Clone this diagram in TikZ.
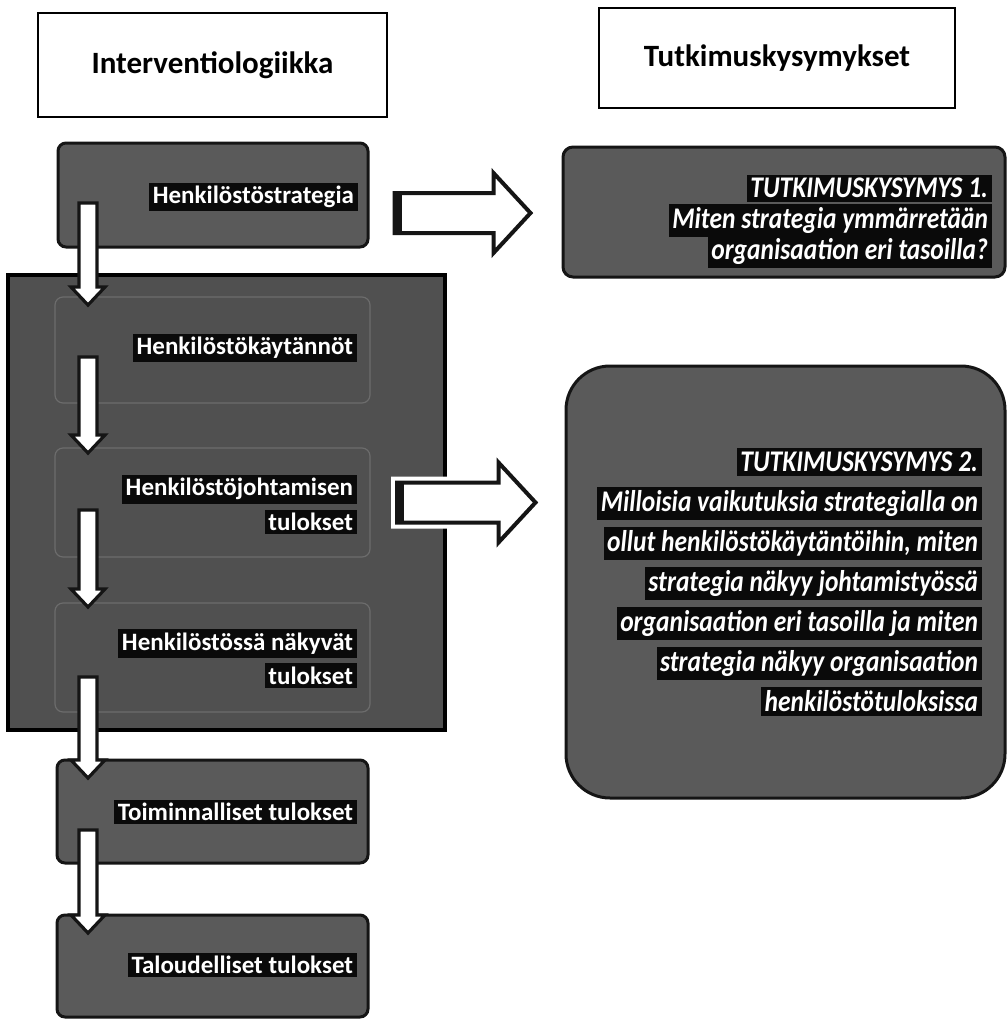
\documentclass[tikz,border=0pt]{standalone}
\usepackage{fontspec}
\setmainfont{Carlito}
\newfontfamily\qfont[FakeStretch=0.85]{Carlito}
\usepackage{tikz}
\usetikzlibrary{calc}
\definecolor{boxfill}{HTML}{5A5A5A}
\definecolor{groupfill}{HTML}{505050}
\definecolor{boxline}{HTML}{151515}
\definecolor{subline}{HTML}{6C6C6C}
\definecolor{halo}{HTML}{0A0A0A}
\newcommand{\hl}[1]{{\fboxsep=1.8pt\colorbox{halo}{#1}}}
\tikzset{
  hdr/.style      = {rectangle, draw=black, fill=white, line width=1.2pt,
                     font={\bfseries\fontsize{15.5}{19}\selectfont}},
  stage/.style    = {rectangle, rounded corners=4pt, draw=boxline, fill=boxfill, line width=1.5pt},
  group/.style    = {rectangle, draw=black, fill=groupfill, line width=2pt},
  substage/.style = {rectangle, rounded corners=4pt, draw=subline, line width=0.6pt},
  qbox/.style     = {rectangle, draw=boxline, fill=boxfill, line width=1.5pt},
  stagetxt/.style = {anchor=east, inner sep=0pt, align=right, text=white,
                     font={\bfseries\fontsize{12.5}{17.5}\selectfont}},
  qtxt/.style     = {anchor=east, inner sep=0pt, align=right, text=white,
                     font={\qfont\bfseries\itshape\fontsize{15}{20}\selectfont\lineskiplimit=-20pt}},
  % block arrows, drawn as outlines between two points
  dnarrow/.style  = {draw=boxline, fill=white, line width=1.6pt,
     to path={let \p1=(\tikztostart), \p2=(\tikztotarget) in
       (\x1-4.5pt,\y1) -- (\x1+4.5pt,\y1) -- (\x1+4.5pt,\y2+9pt) -- (\x1+8.5pt,\y2+9pt)
       -- (\x1,\y2) -- (\x1-8.5pt,\y2+9pt) -- (\x1-4.5pt,\y2+9pt) -- cycle}},
  rtarrow/.style  = {draw=boxline, fill=white, line width=2pt,
     preaction={draw=white, line width=6pt},
     path picture={\fill[boxline] (path picture bounding box.north west)
                    rectangle ([xshift=3.5pt]path picture bounding box.south west);},
     to path={let \p1=(\tikztostart), \p2=(\tikztotarget) in
       (\x1,\y1+10pt) -- (\x2-18.5pt,\y1+10pt) -- (\x2-18.5pt,\y1+20pt) -- (\x2,\y1)
       -- (\x2-18.5pt,\y1-20pt) -- (\x2-18.5pt,\y1-10pt) -- (\x1,\y1-10pt) -- cycle}},
}
\begin{document}
\begin{tikzpicture}[x=0.5pt, y=-0.5pt]
  \fill[white] (0,0) rectangle (1007,1019);
  \useasboundingbox (0,0) rectangle (1007,1019);

  \node[hdr, minimum width=174.5pt, minimum height=52pt] (logic) at (212.5,65) {Interventiologiikka};
  \node[hdr, minimum width=178pt, minimum height=50pt] (questions) at (777,58) {Tutkimuskysymykset};

  % left column
  \node[stage, minimum width=155pt, minimum height=52pt] (strat) at (213,195) {};
  \node[group, minimum width=218.5pt, minimum height=227.5pt] (hrbox) at (226.5,502.5) {};
  \node[substage, minimum width=157.5pt, minimum height=53pt] (prac) at (212.5,350) {};
  \node[substage, minimum width=157.5pt, minimum height=54.5pt] (mgmt) at (212.5,502.5) {};
  \node[substage, minimum width=157.5pt, minimum height=54.5pt] (empl) at (212.5,657.5) {};
  \node[stage, minimum width=155.5pt, minimum height=51.5pt] (oper) at (212.5,811.5) {};
  \node[stage, minimum width=155.5pt, minimum height=51pt] (fin) at (212.5,966) {};

  \node[stagetxt] (strattxt) at (358,197) {\hl{Henkilöstöstrategia}};
  \node[stagetxt] (practxt) at (357,348) {\hl{Henkilöstökäytännöt}};
  \node[stagetxt] (mgmttxt) at (357,504.5) {\hl{Henkilöstöjohtamisen}\\\hl{tulokset}};
  \node[stagetxt, font={\bfseries\fontsize{12.5}{17}\selectfont}] (empltxt) at (357,658.5) {\hl{Henkilöstössä näkyvät}\\\hl{tulokset}};
  \node[stagetxt] (opertxt) at (357,812) {\hl{Toiminnalliset tulokset}};
  \node[stagetxt] (fintxt) at (357,965) {\hl{Taloudelliset tulokset}};

  % right column
  \node[qbox, rounded corners=5pt, minimum width=221pt, minimum height=65pt] (q1) at (784,212) {};
  \node[qbox, rounded corners=22pt, minimum width=219.5pt, minimum height=216pt] (q2) at (785.5,582) {};

  \node[qtxt, font={\qfont\bfseries\itshape\fontsize{15}{15.5}\selectfont\lineskiplimit=-20pt}] (q1txt) at (992,221.5)
    {\hl{TUTKIMUSKYSYMYS 1.}\\\hl{Miten strategia ymmärretään}\\\hl{organisaation eri tasoilla?}};
  \node[qtxt] (q2txt) at (982,582)
    {\hl{TUTKIMUSKYSYMYS 2.}\\\hl{Milloisia vaikutuksia strategialla on}\\\hl{ollut henkilöstökäytäntöihin, miten}\\
     \hl{strategia näkyy johtamistyössä}\\\hl{organisaation eri tasoilla ja miten}\\\hl{strategia näkyy organisaation}\\
     \hl{henkilöstötuloksissa}};

  % arrows
  \foreach \i/\ya/\yb in {1/203/305, 2/357/453, 3/510/607, 4/677/778, 5/830/933}{
    \coordinate (s\i) at (88,\ya);
    \coordinate (e\i) at (88,\yb);
  }
  \foreach \i in {1,...,5}{\draw[dnarrow] (s\i) to (e\i);}
  \draw[rtarrow] ([xshift=12.5pt,yshift=-9pt]strat.east) to ([xshift=-15.5pt]q1.west);
  \draw[rtarrow] ([xshift=-25pt]hrbox.east) to ([xshift=-14.5pt]q2.west);
\end{tikzpicture}
\end{document}
